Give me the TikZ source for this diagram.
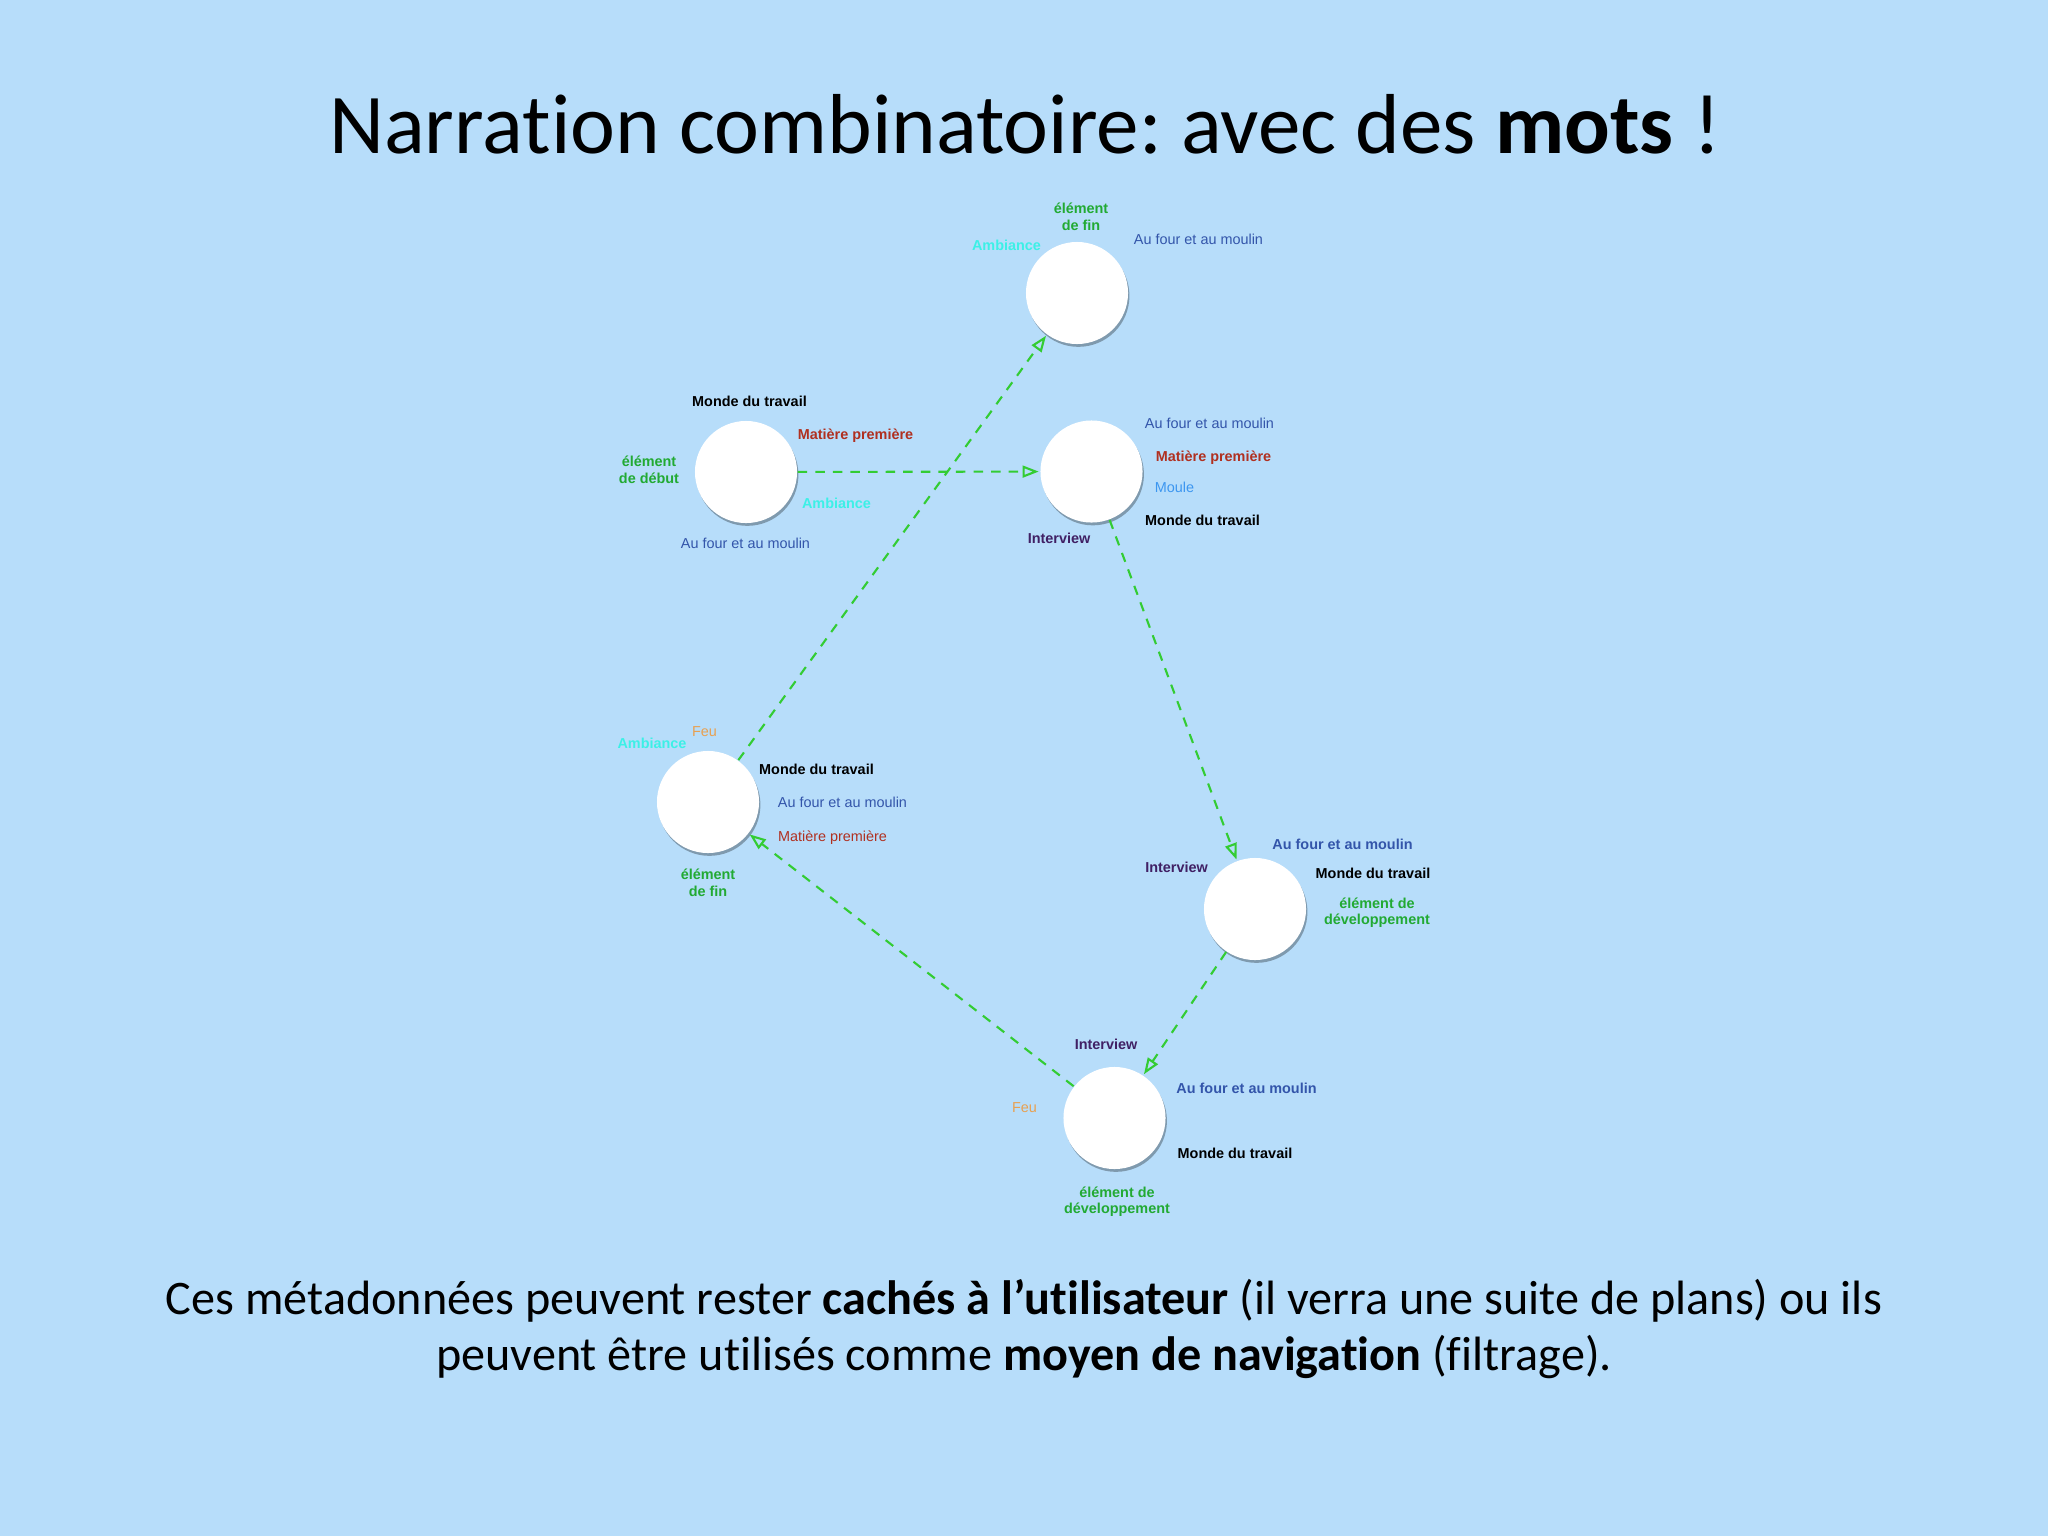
\documentclass[tikz,border=0pt]{standalone}
\usepackage{fontspec}
\setmainfont{Carlito}[Ligatures={NoCommon}]
\newfontfamily\lab{Liberation Sans}
\usetikzlibrary{arrows.meta,shadows}
\frenchspacing
\definecolor{bgblue}{RGB}{183,221,250}
\definecolor{lgreen}{RGB}{34,170,51}
\definecolor{lnkgreen}{RGB}{51,204,51}
\definecolor{lcyan}{RGB}{60,240,230}
\definecolor{lblue}{RGB}{51,85,170}
\definecolor{lred}{RGB}{176,48,32}
\definecolor{lpurple}{RGB}{64,32,100}
\definecolor{lorange}{RGB}{232,160,80}
\definecolor{lmoule}{RGB}{60,150,240}
\tikzset{
  circ/.style={circle, fill=white, minimum size=1.02cm, inner sep=0pt,
    drop shadow={shadow xshift=0.4pt, shadow yshift=-0.8pt, fill=black, opacity=0.3}},
  lb/.style={font=\lab\fontsize{4.1}{4.7}\selectfont, inner sep=0pt, anchor=base, align=center},
  lbb/.style={font=\lab\bfseries\fontsize{4.1}{4.7}\selectfont, inner sep=0pt, anchor=base, align=center},
  two/.style={anchor=center},
  flow/.style={draw=lnkgreen, line width=0.6pt, dash pattern=on 2.7pt off 2.3pt,
    -{Triangle[open, length=4.6pt, width=3.4pt, line width=0.6pt]}, shorten >=0.3pt},
}
\begin{document}
\begin{tikzpicture}[x=0.01cm, y=-0.01cm]
\fill[bgblue] (0,0) rectangle (2048,1536);
\useasboundingbox (0,0) rectangle (2048,1536);

% title
\node[font=\fontsize{24.2}{28}\selectfont, inner sep=0pt, anchor=base] (title) at (1025,153)
  {Narration combinatoire: avec des \textbf{mots} !};

% circles
\node[circ] (nA) at (1077,293) {};
\node[circ] (nB) at (746,472) {};
\node[circ] (nC) at (1091.5,471.5) {};
\node[circ] (nD) at (708,802) {};
\node[circ] (nE) at (1255,909) {};
\node[circ] (nF) at (1114.5,1118) {};

% connectors
\draw[flow] (nB) -- (nC);
\draw[flow] (nC) -- (nE);
\draw[flow] (nE) -- (nF);
\draw[flow] (nF) -- (nD);
\draw[flow] (nD) -- (nA);

% labels A
\node[lbb, two, text=lgreen] (a1) at (1081,217) {élément\\de fin};
\node[lbb, text=lcyan] (a2) at (1006.5,250) {Ambiance};
\node[lb, text=lblue] (a3) at (1198.5,244) {Au four et au moulin};

% labels B
\node[lbb, text=black] (b1) at (749.5,406) {Monde du travail};
\node[lbb, text=lred] (b2) at (855.5,439) {Matière première};
\node[lbb, two, text=lgreen] (b3) at (649,470) {élément\\de début};
\node[lbb, text=lcyan] (b4) at (836.5,508) {Ambiance};
\node[lb, text=lblue] (b5) at (745.5,548) {Au four et au moulin};

% labels C
\node[lb, text=lblue] (c1) at (1209.5,428) {Au four et au moulin};
\node[lbb, text=lred] (c2) at (1213.5,461) {Matière première};
\node[lb, text=lmoule] (c3) at (1174.5,492) {Moule};
\node[lbb, text=black] (c4) at (1202.5,525) {Monde du travail};
\node[lbb, text=lpurple] (c5) at (1059,543) {Interview};

% labels D
\node[lb, text=lorange] (d1) at (704.5,736) {Feu};
\node[lbb, text=lcyan] (d2) at (652,748) {Ambiance};
\node[lbb, text=black] (d3) at (816.5,774) {Monde du travail};
\node[lb, text=lblue] (d4) at (842.5,807) {Au four et au moulin};
\node[lb, text=lred] (d5) at (832.5,841) {Matière première};
\node[lbb, two, text=lgreen] (d6) at (708,883) {élément\\de fin};

% labels E
\node[lbb, text=lblue] (e1) at (1342.5,849) {Au four et au moulin};
\node[lbb, text=lpurple] (e2) at (1176.5,872) {Interview};
\node[lbb, text=black] (e3) at (1373,878) {Monde du travail};
\node[lbb, two, text=lgreen] (e4) at (1377,912.5) {élément de\\développement};

% labels F
\node[lbb, text=lpurple] (f1) at (1106,1049) {Interview};
\node[lbb, text=lblue] (f2) at (1246.5,1093) {Au four et au moulin};
\node[lb, text=lorange] (f3) at (1024.5,1112) {Feu};
\node[lbb, text=black] (f4) at (1235,1158) {Monde du travail};
\node[lbb, two, text=lgreen] (f5) at (1117,1201.5) {élément de\\développement};

% bottom text (base = baseline of last line)
\node[font=\fontsize{13.7}{15.93}\selectfont, inner sep=0pt, anchor=base, align=center] (bottom) at (1024,1370)
  {Ces métadonnées peuvent rester \textbf{cachés à l’utilisateur} (il verra une suite de plans) ou ils\\
   peuvent être utilisés comme \textbf{moyen de navigation} (filtrage).};
\end{tikzpicture}
\end{document}
